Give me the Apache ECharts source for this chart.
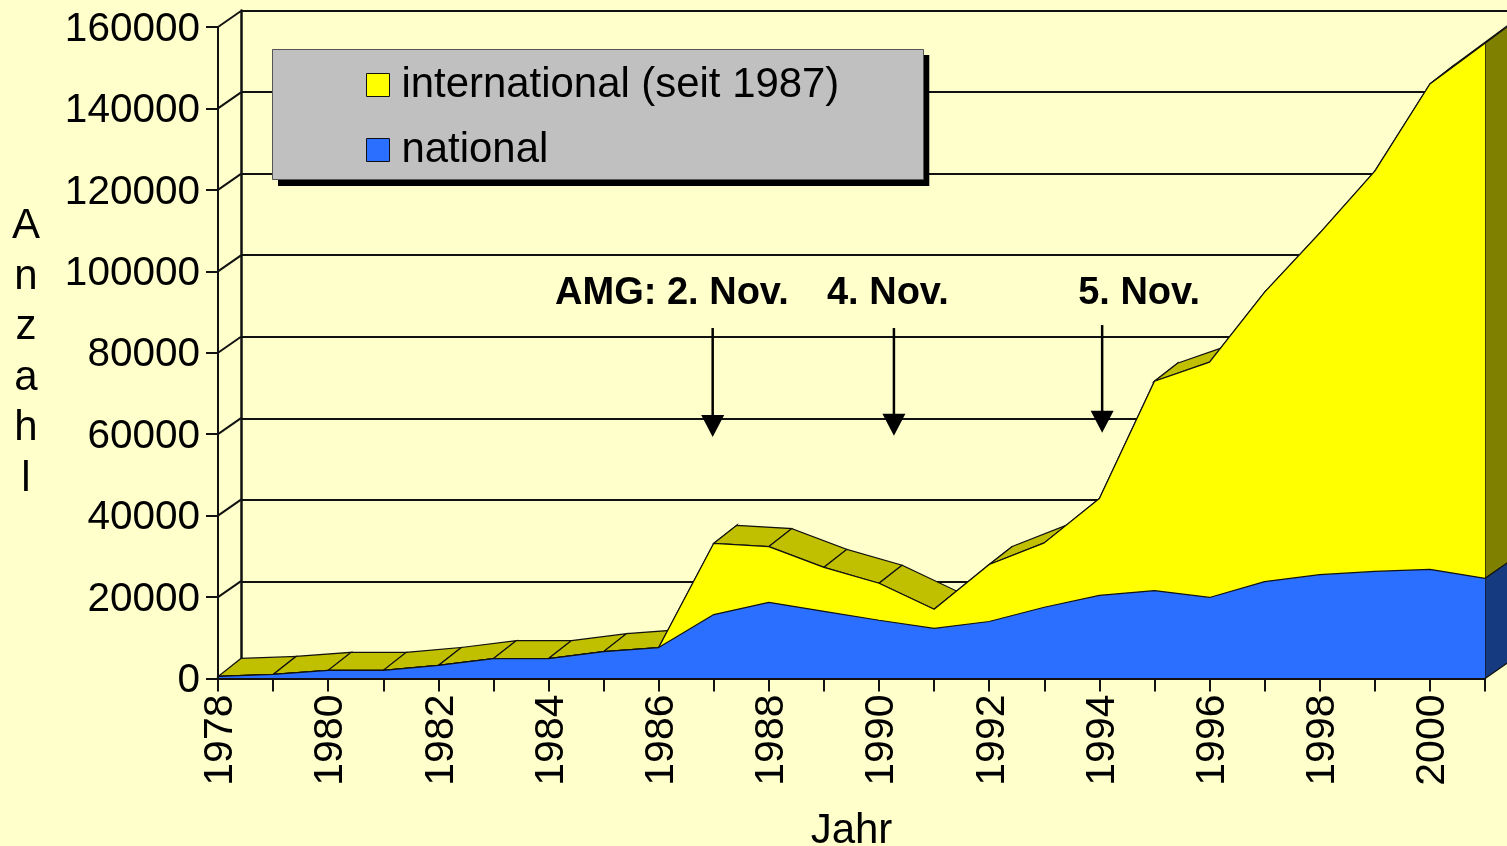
<!DOCTYPE html>
<html>
<head>
<meta charset="utf-8">
<title>Anzahl</title>
<style>
  html, body { margin: 0; padding: 0; background: #ffffcc; overflow: hidden; }
  #chart { width: 1507px; height: 846px; }
</style>
<script src="https://cdn.jsdelivr.net/npm/echarts@6/dist/echarts.min.js"></script>
</head>
<body>
<div id="chart"></div>
<script>
const years = [1978, 1979, 1980, 1981, 1982, 1983, 1984, 1985, 1986, 1987, 1988, 1989,
  1990, 1991, 1992, 1993, 1994, 1995, 1996, 1997, 1998, 1999, 2000, 2001];
const national = [500, 1000, 2000, 2000, 3200, 4900, 4900, 6600, 7600, 15700, 18700, 16500,
  14300, 12300, 14000, 17500, 20400, 21600, 19900, 23800, 25500, 26300, 26800, 24600];
const international = [0, 0, 0, 0, 0, 0, 0, 0, 0, 17500, 13700, 10800,
  9100, 4700, 14000, 15800, 23800, 51400, 57800, 71100, 83900, 98300, 119200, 131400];
const yearLabels = [1978, 1980, 1982, 1984, 1986, 1988, 1990, 1992, 1994, 1996, 1998, 2000];
const yTicks = [0, 20000, 40000, 60000, 80000, 100000, 120000, 140000, 160000];

// annotations
const noteLabels = ["AMG: 2. Nov.", "4. Nov.", "5. Nov."];
const noteLabelYears = [1986.24, 1990.16, 1994.72];
const noteLabelValue = 94600;
const arrowYears = [1986.98, 1990.27, 1994.05];
const arrowTops = [86070, 86070, 86800];
const arrowTips = [59300, 59630, 60350];

const BLACK = "#111";
const FONT = "Liberation Sans";
const totals = national.map((v, i) => v + international[i]);
const last = years.length - 1;

// depth of the fake 3d, in px
const wallDx = 23, wallDy = 16;
const stripDx = 23, stripDy = 18;

const chart = echarts.init(document.getElementById("chart"));

function polygon(points, fill) {
  return {
    type: "polygon",
    shape: { points: points },
    style: { fill: fill, stroke: BLACK, lineWidth: 1.2 }
  };
}

chart.setOption({
  animation: false,
  backgroundColor: "#ffffcc",
  textStyle: { fontFamily: FONT },
  legend: {
    left: 272,
    top: 49,
    orient: "vertical",
    data: ["international (seit 1987)", "national"],
    icon: "rect",
    itemWidth: 23,
    itemHeight: 23,
    itemGap: 23,
    padding: [15, 84, 9, 94],
    backgroundColor: "#c0c0c0",
    borderWidth: 0,
    shadowColor: "#000",
    shadowBlur: 0,
    shadowOffsetX: 6,
    shadowOffsetY: 6,
    itemStyle: { borderColor: BLACK, borderWidth: 1 },
    textStyle: { color: "#000", fontSize: 41.9, fontFamily: FONT, lineHeight: 40, padding: [0, 0, 0, 7] }
  },
  graphic: [
    {
      // thin frame of the legend box
      type: "rect",
      z: 10,
      silent: true,
      shape: { x: 272.5, y: 49.5, width: 651, height: 130 },
      style: { fill: "transparent", stroke: "#555", lineWidth: 1 }
    }
  ],
  grid: [
    { left: 218, top: 27, width: 1267, height: 651.5, outerBoundsMode: "none" }, // front plane
    { left: 241, top: 10.5, width: 1266, height: 652.5, outerBoundsMode: "none" } // back wall
  ],
  xAxis: [
    {
      type: "value",
      gridIndex: 0,
      min: 1978,
      max: 2001,
      interval: 1,
      z: 5,
      name: "Jahr",
      nameLocation: "middle",
      nameGap: 132,
      nameTextStyle: { color: "#000", fontSize: 42, fontFamily: FONT },
      splitLine: { show: false },
      axisLine: { lineStyle: { color: BLACK, width: 2 } },
      axisTick: { length: 13, lineStyle: { color: BLACK, width: 2 } },
      axisLabel: {
        rotate: 90,
        margin: 16,
        verticalAlign: "top", // with the small lineHeight this centres the digits on the tick
        lineHeight: 6,
        color: "#000",
        fontSize: 41,
        fontFamily: FONT,
        formatter: v => (yearLabels.includes(v) ? String(v) : "")
      }
    },
    {
      type: "value",
      gridIndex: 1,
      min: 1978,
      max: 2001,
      show: false
    }
  ],
  yAxis: [
    {
      type: "value",
      gridIndex: 0,
      min: 0,
      max: 160000,
      interval: 20000,
      z: 5,
      name: "A\nn\nz\na\nh\nl",
      nameLocation: "middle",
      nameRotate: 0,
      nameGap: 192,
      nameTextStyle: { color: "#000", fontSize: 42, fontFamily: FONT, lineHeight: 50.5, align: "center", verticalAlign: "middle" },
      splitLine: { show: false },
      axisLine: { show: true, lineStyle: { color: BLACK, width: 2 } },
      axisTick: { show: true, length: 12, lineStyle: { color: BLACK, width: 2 } },
      axisLabel: {
        margin: 18,
        verticalAlign: "top",
        lineHeight: 5,
        color: "#000",
        fontSize: 40.5,
        fontFamily: FONT,
        formatter: v => String(v)
      }
    },
    {
      type: "value",
      gridIndex: 1,
      min: 0,
      max: 160000,
      interval: 20000,
      axisLabel: { show: false },
      axisTick: { show: false },
      axisLine: { show: true, lineStyle: { color: BLACK, width: 2.5 } },
      splitLine: { lineStyle: { color: BLACK, width: 2 } }
    }
  ],
  series: [
    {
      // diagonals on the left wall
      type: "custom",
      name: "wallTicks",
      xAxisIndex: 0,
      yAxisIndex: 0,
      z: 1,
      silent: true,
      clip: false,
      data: yTicks.map(v => [years[0], v]),
      renderItem(params, api) {
        const p = api.coord([api.value(0), api.value(1)]);
        return {
          type: "line",
          shape: { x1: p[0], y1: p[1], x2: p[0] + wallDx, y2: p[1] - wallDy },
          style: { stroke: BLACK, lineWidth: 2 }
        };
      }
    },
    {
      // top surface of the stacked area
      type: "custom",
      name: "topStrip",
      xAxisIndex: 0,
      yAxisIndex: 0,
      z: 1.5,
      silent: true,
      clip: false,
      data: years.slice(0, last).map((y, i) => [y, totals[i], years[i + 1], totals[i + 1]]),
      renderItem(params, api) {
        const a = api.coord([api.value(0), api.value(1)]);
        const b = api.coord([api.value(2), api.value(3)]);
        return polygon([
          a, b,
          [b[0] + stripDx, b[1] - stripDy],
          [a[0] + stripDx, a[1] - stripDy]
        ], "#c0c000");
      }
    },
    {
      // right side wall
      type: "custom",
      name: "sideWall",
      xAxisIndex: 0,
      yAxisIndex: 0,
      z: 1.6,
      silent: true,
      clip: false,
      data: [
        [years[last], 0, national[last], 0],
        [years[last], national[last], totals[last], 1]
      ],
      renderItem(params, api) {
        const a = api.coord([api.value(0), api.value(1)]);
        const b = api.coord([api.value(0), api.value(2)]);
        return polygon([
          a, b,
          [b[0] + wallDx, b[1] - wallDy - 1],
          [a[0] + wallDx, a[1] - wallDy]
        ], api.value(3) ? "#808000" : "#163a80");
      }
    },
    {
      // drawn as the running total, national goes on top of it
      name: "international (seit 1987)",
      type: "line",
      xAxisIndex: 0,
      yAxisIndex: 0,
      z: 2,
      showSymbol: false,
      silent: true,
      data: years.map((y, i) => [y, totals[i]]),
      itemStyle: { color: "#ffff00" },
      lineStyle: { color: BLACK, width: 1.2 },
      areaStyle: { color: "#ffff00", opacity: 1 }
    },
    {
      name: "national",
      type: "line",
      xAxisIndex: 0,
      yAxisIndex: 0,
      z: 2.1,
      showSymbol: false,
      silent: true,
      data: years.map((y, i) => [y, national[i]]),
      itemStyle: { color: "#2a6fff" },
      lineStyle: { color: BLACK, width: 1.2 },
      areaStyle: { color: "#2a6fff", opacity: 1 }
    },
    {
      // arrows
      type: "custom",
      name: "arrows",
      xAxisIndex: 0,
      yAxisIndex: 0,
      z: 6,
      silent: true,
      clip: false,
      data: arrowYears.map((y, i) => [y, arrowTops[i], arrowTips[i]]),
      renderItem(params, api) {
        const top = api.coord([api.value(0), api.value(1)]);
        const tip = api.coord([api.value(0), api.value(2)]);
        return {
          type: "group",
          children: [
            {
              type: "line",
              shape: { x1: top[0], y1: top[1], x2: tip[0], y2: tip[1] - 15 },
              style: { stroke: "#000", lineWidth: 2.5 }
            },
            {
              type: "polygon",
              shape: { points: [tip, [tip[0] - 11.5, tip[1] - 22], [tip[0] + 11.5, tip[1] - 22]] },
              style: { fill: "#000" }
            }
          ]
        };
      }
    },
    {
      // labels above the arrows
      type: "custom",
      name: "notes",
      xAxisIndex: 0,
      yAxisIndex: 0,
      z: 6,
      silent: true,
      clip: false,
      data: noteLabelYears.map(y => [y, noteLabelValue]),
      renderItem(params, api) {
        const p = api.coord([api.value(0), api.value(1)]);
        return {
          type: "text",
          style: {
            x: p[0],
            y: p[1],
            text: noteLabels[params.dataIndex],
            fill: "#000",
            font: "bold 38px " + FONT,
            textAlign: "center",
            textVerticalAlign: "middle"
          }
        };
      }
    }
  ]
});
</script>
</body>
</html>
